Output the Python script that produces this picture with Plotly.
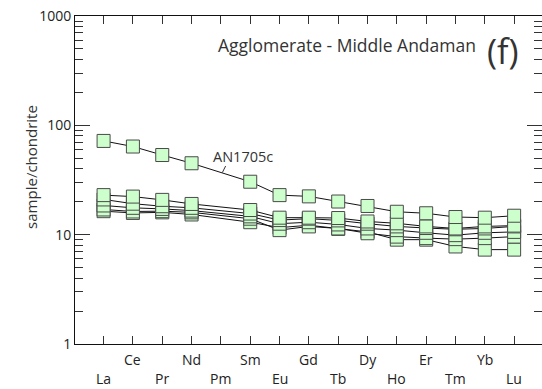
import plotly.graph_objects as go
import numpy as np

elements = ["La", "Ce", "Pr", "Nd", "Pm", "Sm", "Eu", "Gd", "Tb", "Dy", "Ho", "Er", "Tm", "Yb", "Lu"]

# None = Pm not analysed (line connects Nd to Sm)
AN1705c = [72, 64, 53.5, 45, None, 30.5, 23, 22.4, 20.1, 18.3, 16.2, 15.7, 14.5, 14.3, 14.9]
s1 = [23, 22.3, 20.8, 19.1, None, 16.8, 14.3, 14.3, 14.2, 13.2, 12.7, 11.9, 11.4, 11.9, 12.1]
s2 = [21, 19.2, 18.2, 17.6, None, 15.6, 13.6, 14.0, 13.5, 12.6, 11.9, 11.5, 11.2, 11.4, 11.9]
s3 = [18.5, 17.6, 17.2, 16.6, None, 14.7, 12.6, 13.0, 12.4, 11.4, 11.0, 10.4, 9.9, 10.4, 10.6]
s4 = [17.0, 16.3, 16.4, 16.0, None, 14.0, 11.0, 11.9, 11.4, 10.3, 9.6, 9.3, 9.1, 9.3, 9.6]
s5 = [16.4, 15.8, 16.0, 15.3, None, 13.0, 11.6, 12.2, 11.3, 10.6, 9.0, 9.0, 7.8, 7.3, 7.3]

series = [s5, s4, s3, s2, s1, AN1705c]

y_ticks = [1, 10, 100, 1000]
y_ticktext = ["1", "10", "100", "1000"]

FONT = "Open Sans"
idx = list(range(len(elements)))

fig = go.Figure()
for s in series:
    fig.add_trace(go.Scatter(
        x=idx, y=s, mode="lines+markers", connectgaps=True,
        line=dict(color="#111111", width=1),
        marker=dict(symbol="square", size=13, color="#ccffcc",
                    line=dict(color="#4a4a4a", width=1)),
        showlegend=False, hoverinfo="skip"))

fig.update_xaxes(range=[-0.975, 14.95], tickvals=idx, ticktext=[""] * len(idx),
                 ticks="inside", ticklen=8, tickcolor="#333", tickwidth=1,
                 showline=True, linecolor="#111", linewidth=1, mirror="ticks",
                 showgrid=False, zeroline=False)
fig.update_yaxes(type="log", range=[0, 3], tickvals=y_ticks, ticktext=y_ticktext,
                 ticks="inside", ticklen=15, tickcolor="#333", tickwidth=1,
                 minor=dict(ticks="inside", ticklen=8, tickcolor="#333", dtick="D1", showgrid=False),
                 showline=True, linecolor="#111", linewidth=1, mirror="ticks",
                 showgrid=False, zeroline=False,
                 tickfont=dict(family=FONT, size=14, color="#222"))

ann = []
for i, el in enumerate(elements):
    upper = (i % 2 == 1)
    ann.append(dict(x=i, y=0, xref="x", yref="paper", text=el, showarrow=False,
                    yanchor="middle", yshift=-(15 if upper else 34),
                    font=dict(family=FONT, size=14, color="#222")))

ann.append(dict(x=0, y=0.54, xref="paper", yref="paper", xshift=-56, text="sample/chondrite",
                textangle=-90, showarrow=False, font=dict(family=FONT, size=15, color="#333")))
ann.append(dict(x=0.863, y=0.911, xref="paper", yref="paper", xanchor="right", yanchor="middle",
                text="Agglomerate - Middle Andaman", showarrow=False,
                font=dict(family=FONT, size=17.5, color="#333")))
ann.append(dict(x=0.917, y=0.893, xref="paper", yref="paper", xanchor="center", yanchor="middle",
                text="(f)", showarrow=False, font=dict(family=FONT, size=34, color="#333")))
ann.append(dict(x=4.76, y=np.log10(52.4), xref="x", yref="y", text="AN1705c", showarrow=False,
                font=dict(family=FONT, size=14.5, color="#333")))
ann.append(dict(x=4.05, y=np.log10(37), xref="x", yref="y", text="", showarrow=True,
                arrowhead=0, arrowwidth=1, arrowcolor="#333", ax=4, ay=-8))

fig.update_layout(width=542, height=389, margin=dict(l=75, r=0, t=16, b=45),
                  plot_bgcolor="white", paper_bgcolor="white", annotations=ann,
                  font=dict(family=FONT))
fig.write_html("out.html")
